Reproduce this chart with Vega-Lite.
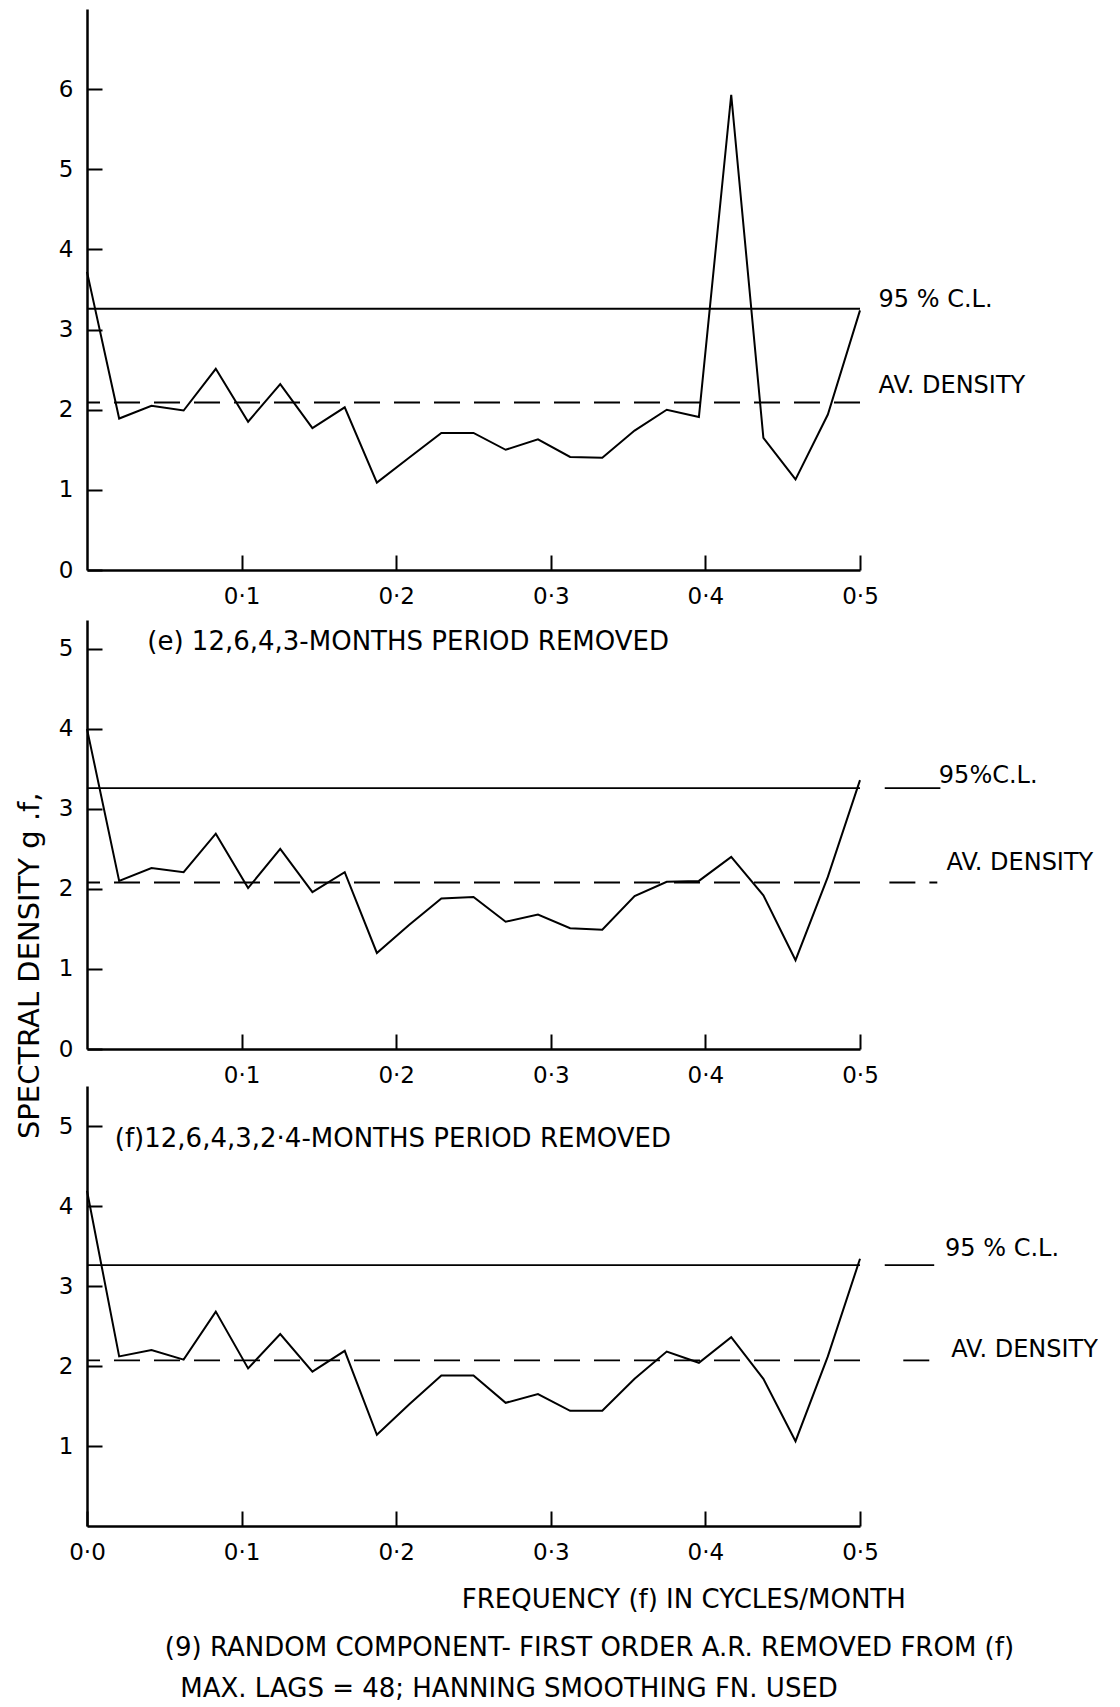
{
  "$schema": "https://vega.github.io/schema/vega-lite/v6.json",
  "padding": {"left": 15, "top": 9, "right": 0, "bottom": 0},
  "background": "white",
  "bounds": "flush",
  "spacing": 50,
  "config": {
    "view": {"stroke": null},
    "font": "DejaVu Sans",
    "axis": {
      "domainColor": "#000",
      "domainWidth": 2.5,
      "tickColor": "#000",
      "tickWidth": 2,
      "tickSize": -15,
      "labelColor": "#000",
      "labelFont": "DejaVu Sans",
      "labelFontSize": 23,
      "labelFlush": false,
      "labelOverlap": false,
      "grid": false
    },
    "axisY": {"labelPadding": 29},
    "axisX": {"labelPadding": 30},
    "line": {"color": "#000", "strokeWidth": 2},
    "rule": {"color": "#000", "strokeWidth": 1.8},
    "text": {"color": "#000", "font": "DejaVu Sans"}
  },
  "datasets": {
    "spec1": [
      {"f": 0, "g": 3.72}, {"f": 0.0208, "g": 1.89}, {"f": 0.0417, "g": 2.05},
      {"f": 0.0625, "g": 1.99}, {"f": 0.0833, "g": 2.51}, {"f": 0.1042, "g": 1.85},
      {"f": 0.125, "g": 2.32}, {"f": 0.1458, "g": 1.77}, {"f": 0.1667, "g": 2.03},
      {"f": 0.1875, "g": 1.09}, {"f": 0.2083, "g": 1.40}, {"f": 0.2292, "g": 1.71},
      {"f": 0.25, "g": 1.71}, {"f": 0.2708, "g": 1.50}, {"f": 0.2917, "g": 1.63},
      {"f": 0.3125, "g": 1.41}, {"f": 0.3333, "g": 1.40}, {"f": 0.3542, "g": 1.74},
      {"f": 0.375, "g": 2.00}, {"f": 0.3958, "g": 1.91}, {"f": 0.4167, "g": 5.93},
      {"f": 0.4375, "g": 1.65}, {"f": 0.4583, "g": 1.13}, {"f": 0.4792, "g": 1.94},
      {"f": 0.5, "g": 3.24}
    ],
    "spec2": [
      {"f": 0, "g": 4.00}, {"f": 0.0208, "g": 2.10}, {"f": 0.0417, "g": 2.26},
      {"f": 0.0625, "g": 2.21}, {"f": 0.0833, "g": 2.69}, {"f": 0.1042, "g": 2.01},
      {"f": 0.125, "g": 2.50}, {"f": 0.1458, "g": 1.96}, {"f": 0.1667, "g": 2.21},
      {"f": 0.1875, "g": 1.20}, {"f": 0.2083, "g": 1.55}, {"f": 0.2292, "g": 1.88},
      {"f": 0.25, "g": 1.90}, {"f": 0.2708, "g": 1.59}, {"f": 0.2917, "g": 1.68},
      {"f": 0.3125, "g": 1.51}, {"f": 0.3333, "g": 1.49}, {"f": 0.3542, "g": 1.91},
      {"f": 0.375, "g": 2.09}, {"f": 0.3958, "g": 2.10}, {"f": 0.4167, "g": 2.40},
      {"f": 0.4375, "g": 1.92}, {"f": 0.4583, "g": 1.11}, {"f": 0.4792, "g": 2.15},
      {"f": 0.5, "g": 3.36}
    ],
    "spec3": [
      {"f": 0, "g": 4.19}, {"f": 0.0208, "g": 2.12}, {"f": 0.0417, "g": 2.20},
      {"f": 0.0625, "g": 2.08}, {"f": 0.0833, "g": 2.68}, {"f": 0.1042, "g": 1.97},
      {"f": 0.125, "g": 2.40}, {"f": 0.1458, "g": 1.93}, {"f": 0.1667, "g": 2.19},
      {"f": 0.1875, "g": 1.14}, {"f": 0.2083, "g": 1.52}, {"f": 0.2292, "g": 1.88},
      {"f": 0.25, "g": 1.88}, {"f": 0.2708, "g": 1.54}, {"f": 0.2917, "g": 1.65},
      {"f": 0.3125, "g": 1.44}, {"f": 0.3333, "g": 1.44}, {"f": 0.3542, "g": 1.84},
      {"f": 0.375, "g": 2.18}, {"f": 0.3958, "g": 2.04}, {"f": 0.4167, "g": 2.36},
      {"f": 0.4375, "g": 1.84}, {"f": 0.4583, "g": 1.06}, {"f": 0.4792, "g": 2.12},
      {"f": 0.5, "g": 3.34}
    ],
    "levels1": [
      {"level": "95% C.L.", "g": 3.26},
      {"level": "AV. DENSITY", "g": 2.09}
    ],
    "levels2": [
      {"level": "95% C.L.", "g": 3.26},
      {"level": "AV. DENSITY", "g": 2.08}
    ],
    "levels3": [
      {"level": "95% C.L.", "g": 3.26},
      {"level": "AV. DENSITY", "g": 2.07}
    ],
    "tails2": [
      {"level": "95% C.L.", "f": 0.516, "f2": 0.552, "g": 3.26},
      {"level": "AV. DENSITY", "f": 0.519, "f2": 0.55, "g": 2.08}
    ],
    "tails3": [
      {"level": "95% C.L.", "f": 0.516, "f2": 0.548, "g": 3.26},
      {"level": "AV. DENSITY", "f": 0.528, "f2": 0.549, "g": 2.07}
    ],
    "notes1": [
      {"f": 0.512, "g": 3.37, "text": "95 % C.L."},
      {"f": 0.512, "g": 2.29, "text": "AV. DENSITY"}
    ],
    "notes2": [
      {"f": 0.551, "g": 3.41, "text": "95%C.L."},
      {"f": 0.556, "g": 2.33, "text": "AV. DENSITY"}
    ],
    "notes3": [
      {"f": 0.555, "g": 3.46, "text": "95 % C.L."},
      {"f": 0.559, "g": 2.2, "text": "AV. DENSITY"}
    ],
    "captions2": [
      {"f": 0.039, "g": 5.09, "text": "(e) 12,6,4,3-MONTHS PERIOD REMOVED"}
    ],
    "captions3": [
      {"f": 0.018, "g": 4.84, "text": "(f)12,6,4,3,2·4-MONTHS PERIOD REMOVED"}
    ],
    "ytitle": [
      {"f": -0.037, "g": 1.04, "text": "SPECTRAL DENSITY g .f,"}
    ],
    "footer": [
      {"f": 0.386, "g": -0.925, "text": "FREQUENCY (f) IN CYCLES/MONTH"},
      {"f": 0.325, "g": -1.53, "text": "(9)  RANDOM COMPONENT- FIRST ORDER A.R. REMOVED FROM (f)"},
      {"f": 0.273, "g": -2.04, "text": "MAX. LAGS = 48;  HANNING SMOOTHING FN. USED"}
    ]
  },
  "vconcat": [
    {
      "width": 773,
      "height": 561,
      "layer": [
        {
          "data": {"name": "spec1"},
          "mark": "line",
          "encoding": {
            "x": {"field": "f", "type": "quantitative", "title": null,
                  "scale": {"domain": [0, 0.5], "nice": false, "zero": false},
                  "axis": {"values": [0.1, 0.2, 0.3, 0.4, 0.5], "labelExpr": "replace(format(datum.value, '.1f'), '.', '·')"}},
            "y": {"field": "g", "type": "quantitative", "title": null,
                  "scale": {"domain": [0, 7], "nice": false},
                  "axis": {"values": [0, 1, 2, 3, 4, 5, 6], "format": "d"}}
          }
        },
        {
          "data": {"name": "levels1"},
          "mark": "rule",
          "encoding": {
            "y": {"field": "g", "type": "quantitative", "title": null},
            "strokeDash": {"field": "level", "type": "nominal", "legend": null,
                           "scale": {"domain": ["95% C.L.", "AV. DENSITY"], "range": [[1, 0], [26, 14]]}}
          }
        },
        {
          "data": {"name": "notes1"},
          "mark": {"type": "text", "align": "left", "baseline": "middle", "fontSize": 24},
          "encoding": {
            "x": {"field": "f", "type": "quantitative", "title": null},
            "y": {"field": "g", "type": "quantitative", "title": null},
            "text": {"field": "text"}
          }
        }
      ]
    },
    {
      "bounds": "flush",
      "spacing": 37,
      "vconcat": [
        {
          "width": 773,
          "height": 429,
          "layer": [
            {
              "data": {"name": "spec2"},
              "mark": "line",
              "encoding": {
                "x": {"field": "f", "type": "quantitative", "title": null,
                      "scale": {"domain": [0, 0.5], "nice": false, "zero": false},
                      "axis": {"values": [0.1, 0.2, 0.3, 0.4, 0.5], "labelExpr": "replace(format(datum.value, '.1f'), '.', '·')"}},
                "y": {"field": "g", "type": "quantitative", "title": null,
                      "scale": {"domain": [0, 5.36], "nice": false},
                      "axis": {"values": [0, 1, 2, 3, 4, 5], "format": "d"}}
              }
            },
            {
              "data": {"name": "levels2"},
              "mark": "rule",
              "encoding": {
                "y": {"field": "g", "type": "quantitative", "title": null},
                "strokeDash": {"field": "level", "type": "nominal", "legend": null,
                               "scale": {"domain": ["95% C.L.", "AV. DENSITY"], "range": [[1, 0], [26, 14]]}}
              }
            },
            {
              "data": {"name": "tails2"},
              "mark": "rule",
              "encoding": {
                "x": {"field": "f", "type": "quantitative", "title": null},
                "x2": {"field": "f2"},
                "y": {"field": "g", "type": "quantitative", "title": null},
                "strokeDash": {"field": "level", "type": "nominal", "legend": null,
                               "scale": {"domain": ["95% C.L.", "AV. DENSITY"], "range": [[1, 0], [14, 8]]}}
              }
            },
            {
              "data": {"name": "notes2"},
              "mark": {"type": "text", "align": "left", "baseline": "middle", "fontSize": 24},
              "encoding": {
                "x": {"field": "f", "type": "quantitative", "title": null},
                "y": {"field": "g", "type": "quantitative", "title": null},
                "text": {"field": "text"}
              }
            },
            {
              "data": {"name": "captions2"},
              "mark": {"type": "text", "align": "left", "baseline": "middle", "fontSize": 26},
              "encoding": {
                "x": {"field": "f", "type": "quantitative", "title": null},
                "y": {"field": "g", "type": "quantitative", "title": null},
                "text": {"field": "text"}
              }
            },
            {
              "data": {"name": "ytitle"},
              "mark": {"type": "text", "align": "center", "baseline": "middle", "angle": 270, "fontSize": 29},
              "encoding": {
                "x": {"field": "f", "type": "quantitative", "title": null},
                "y": {"field": "g", "type": "quantitative", "title": null},
                "text": {"field": "text"}
              }
            }
          ]
        },
        {
          "width": 773,
          "height": 440,
          "layer": [
            {
              "data": {"name": "spec3"},
              "mark": "line",
              "encoding": {
                "x": {"field": "f", "type": "quantitative", "title": null,
                      "scale": {"domain": [0, 0.5], "nice": false, "zero": false},
                      "axis": {"values": [0, 0.1, 0.2, 0.3, 0.4, 0.5], "labelExpr": "replace(format(datum.value, '.1f'), '.', '·')"}},
                "y": {"field": "g", "type": "quantitative", "title": null,
                      "scale": {"domain": [0, 5.5], "nice": false},
                      "axis": {"values": [1, 2, 3, 4, 5], "format": "d"}}
              }
            },
            {
              "data": {"name": "levels3"},
              "mark": "rule",
              "encoding": {
                "y": {"field": "g", "type": "quantitative", "title": null},
                "strokeDash": {"field": "level", "type": "nominal", "legend": null,
                               "scale": {"domain": ["95% C.L.", "AV. DENSITY"], "range": [[1, 0], [26, 14]]}}
              }
            },
            {
              "data": {"name": "tails3"},
              "mark": "rule",
              "encoding": {
                "x": {"field": "f", "type": "quantitative", "title": null},
                "x2": {"field": "f2"},
                "y": {"field": "g", "type": "quantitative", "title": null},
                "strokeDash": {"field": "level", "type": "nominal", "legend": null,
                               "scale": {"domain": ["95% C.L.", "AV. DENSITY"], "range": [[1, 0], [14, 8]]}}
              }
            },
            {
              "data": {"name": "notes3"},
              "mark": {"type": "text", "align": "left", "baseline": "middle", "fontSize": 24},
              "encoding": {
                "x": {"field": "f", "type": "quantitative", "title": null},
                "y": {"field": "g", "type": "quantitative", "title": null},
                "text": {"field": "text"}
              }
            },
            {
              "data": {"name": "captions3"},
              "mark": {"type": "text", "align": "left", "baseline": "middle", "fontSize": 26},
              "encoding": {
                "x": {"field": "f", "type": "quantitative", "title": null},
                "y": {"field": "g", "type": "quantitative", "title": null},
                "text": {"field": "text"}
              }
            },
            {
              "data": {"name": "footer"},
              "mark": {"type": "text", "align": "center", "baseline": "middle", "fontSize": 26},
              "encoding": {
                "x": {"field": "f", "type": "quantitative", "title": null},
                "y": {"field": "g", "type": "quantitative", "title": null},
                "text": {"field": "text"}
              }
            }
          ]
        }
      ]
    }
  ]
}
